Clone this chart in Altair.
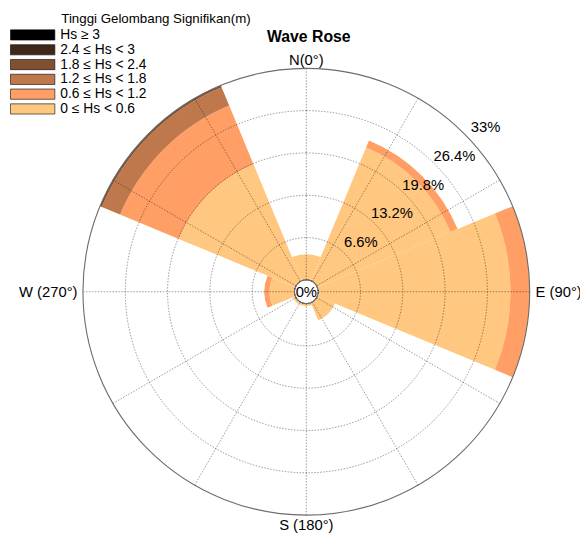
import altair as alt
import pandas as pd
import numpy as np

# ---------------- data ----------------
directions = ["N", "NE", "E", "SE", "S", "SW", "W", "NW"]
dir_angles = [0, 45, 90, 135, 180, 225, 270, 315]
class_labels = ["Hs ≥ 3", "2.4 ≤ Hs < 3", "1.8 ≤ Hs < 2.4",
                "1.2 ≤ Hs < 1.8", "0.6 ≤ Hs < 1.2", "0 ≤ Hs < 0.6"]
class_colors = ["#000000", "#402819", "#805033", "#BF784C", "#FF9F65", "#FFC77F"]
freq_hs_0_06 = [4.0, 22.5, 30.0, 3.0, 0.4, 0.4, 3.9, 19.7]
freq_hs_06_12 = [0.0, 1.2, 3.0, 0.0, 0.0, 0.0, 0.8, 9.9]
freq_hs_12_18 = [0.0, 0.0, 0.0, 0.0, 0.0, 0.0, 0.0, 3.1]
freq_hs_18_24 = [0.0, 0.0, 0.0, 0.0, 0.0, 0.0, 0.0, 0.3]
freq_hs_24_3 = [0.0, 0.0, 0.0, 0.0, 0.0, 0.0, 0.0, 0.0]
freq_hs_3 = [0.0, 0.0, 0.0, 0.0, 0.0, 0.0, 0.0, 0.0]
ring_values = [6.6, 13.2, 19.8, 26.4, 33.0]
ring_labels = ["6.6%", "13.2%", "19.8%", "26.4%", "33%"]
cardinal_labels = ["N(0°)", "E (90°)", "S (180°)", "W (270°)"]
cardinal_angles = [0, 90, 180, 270]
grid_angles = [0, 30, 60, 90, 120, 150, 180, 210, 240, 270, 300, 330]
title_text = "Wave Rose"
legend_title = "Tinggi Gelombang Signifikan(m)"
center_label = "0%"

# ---------------- layout ----------------
FONT = "Liberation Sans"
R_OUT = 226.5
R_HOLE = 12.0
PCT_MAX = 33.0
SECTOR = 45.0
K = (R_OUT - R_HOLE) / PCT_MAX
CX, CY = 310.5, 292.0          # page position of the rose centre
view_left = CX - R_OUT
view_top = CY - R_OUT


def polar(dist_px, deg):
    a = np.deg2rad(deg)
    return dist_px * np.sin(a), dist_px * np.cos(a)


# stacked wedges (inner class first)
stack_order = [(class_labels[5], freq_hs_0_06), (class_labels[4], freq_hs_06_12),
               (class_labels[3], freq_hs_12_18), (class_labels[2], freq_hs_18_24),
               (class_labels[1], freq_hs_24_3), (class_labels[0], freq_hs_3)]
rows = []
for i, (d, ang) in enumerate(zip(directions, dir_angles)):
    base = 0.0
    for cls, vals in stack_order:
        v = vals[i]
        if v > 0:
            rows.append(dict(dir=d, cls=cls, t0=ang - SECTOR / 2, t1=ang + SECTOR / 2,
                             r0=base, r1=base + v))
            base += v
wedge_df = pd.DataFrame(rows)

theta_scale = alt.Scale(type="linear", domain=[0, 360], range=[0, 2 * np.pi], zero=False)
radius_scale = alt.Scale(type="linear", domain=[0, PCT_MAX], range=[R_HOLE, R_OUT], zero=False)
xs = alt.Scale(domain=[-R_OUT, R_OUT], nice=False, zero=False)
ys = alt.Scale(domain=[-R_OUT, R_OUT], nice=False, zero=False)
color_scale = alt.Scale(domain=class_labels, range=class_colors)

wedges = alt.Chart(wedge_df).mark_arc().encode(
    theta=alt.Theta("t0:Q", scale=theta_scale, stack=False),
    theta2="t1:Q",
    radius=alt.Radius("r1:Q", scale=radius_scale, stack=False),
    radius2="r0:Q",
    color=alt.Color("cls:N", scale=color_scale, legend=alt.Legend(
        title=None, orient="none", legendX=10 - view_left, legendY=24.5 - view_top,
        symbolType="M-1,-0.23L1,-0.23L1,0.23L-1,0.23Z", symbolSize=2025,
        symbolStrokeColor="black", symbolStrokeWidth=0.6, symbolOpacity=1,
        labelFont=FONT, labelFontSize=14, labelColor="black", labelOffset=5,
        rowPadding=0, clipHeight=14.3, padding=0, labelLimit=300)),
)

ring_df = pd.DataFrame(dict(ring=ring_values[:-1], t0=0, t1=360))
rings = alt.Chart(ring_df).mark_arc(filled=False, stroke="black", strokeOpacity=0.5,
                                    strokeWidth=0.8, strokeDash=[1.5, 1.5]).encode(
    theta=alt.Theta("t0:Q", scale=theta_scale, stack=False),
    theta2="t1:Q",
    radius=alt.Radius("ring:Q", scale=radius_scale, stack=False),
)
outer_df = pd.DataFrame(dict(ring=ring_values[-1:], t0=0, t1=360))
outer = alt.Chart(outer_df).mark_arc(filled=False, stroke="#6b6b6b", strokeWidth=1.1).encode(
    theta=alt.Theta("t0:Q", scale=theta_scale, stack=False),
    theta2="t1:Q",
    radius=alt.Radius("ring:Q", scale=radius_scale, stack=False),
)

rad_rows = []
for g in grid_angles:
    x0, y0 = polar(R_HOLE, g)
    x1, y1 = polar(R_OUT, g)
    rad_rows.append(dict(x=x0, y=y0, x2=x1, y2=y1))
rad_df = pd.DataFrame(rad_rows)
radials = alt.Chart(rad_df).mark_rule(color="black", opacity=0.5, strokeWidth=0.8,
                                      strokeDash=[1.5, 1.5]).encode(
    x=alt.X("x:Q", scale=xs, axis=None), y=alt.Y("y:Q", scale=ys, axis=None),
    x2="x2:Q", y2="y2:Q")

lab_rows = []
for v, t in zip(ring_values, ring_labels):
    x, y = polar(R_HOLE + K * v + 20, 47.5)
    lab_rows.append(dict(x=x, y=y, t=t))
ring_text = alt.Chart(pd.DataFrame(lab_rows)).mark_text(
    font=FONT, fontSize=15, color="black", align="center", baseline="middle").encode(
    x=alt.X("x:Q", scale=xs, axis=None), y=alt.Y("y:Q", scale=ys, axis=None), text="t:N")

card_gap = {0: 8.5, 90: 6.0, 180: 10.5, 270: 5.5}
card_rows = []
for t, a in zip(cardinal_labels, cardinal_angles):
    x, y = polar(R_OUT + card_gap[a], a)
    card_rows.append(dict(x=x, y=y, t=t, a=a))
card_df = pd.DataFrame(card_rows)


def card_layer(df, align):
    return alt.Chart(df).mark_text(font=FONT, fontSize=15, color="black", align=align,
                                   baseline="middle").encode(
        x=alt.X("x:Q", scale=xs, axis=None), y=alt.Y("y:Q", scale=ys, axis=None), text="t:N")


card_ns = card_layer(card_df[card_df.a.isin([0, 180])], "center")
card_e = card_layer(card_df[card_df.a == 90], "left")
card_w = card_layer(card_df[card_df.a == 270], "right")

center_df = pd.DataFrame(dict(x=[0.0], y=[0.0], t=[center_label]))
center_text = alt.Chart(center_df).mark_text(font=FONT, fontSize=15, color="black",
                                              baseline="middle").encode(
    x=alt.X("x:Q", scale=xs, axis=None), y=alt.Y("y:Q", scale=ys, axis=None), text="t:N")

title_df = pd.DataFrame(dict(x=[2.5], y=[CY - 34.0], t=[title_text]))
title = alt.Chart(title_df).mark_text(font=FONT, fontSize=16, fontWeight="bold",
                                      color="black", baseline="middle").encode(
    x=alt.X("x:Q", scale=xs, axis=None), y=alt.Y("y:Q", scale=ys, axis=None), text="t:N")

ltitle_df = pd.DataFrame(dict(x=[62 - CX], y=[CY - 15.5], t=[legend_title]))
ltitle = alt.Chart(ltitle_df).mark_text(font=FONT, fontSize=13.5, color="black",
                                        align="left", baseline="middle").encode(
    x=alt.X("x:Q", scale=xs, axis=None), y=alt.Y("y:Q", scale=ys, axis=None), text="t:N")

chart = alt.layer(wedges, rings, radials, outer, ring_text, card_ns, card_e, card_w,
                  center_text, title, ltitle).properties(
    width=2 * R_OUT, height=2 * R_OUT,
    autosize=alt.AutoSizeParams(type="none"),
    padding={"left": view_left - 8, "top": view_top - 8, "right": 51, "bottom": 19},
    background="white",
).configure_view(strokeWidth=0)

chart.save("out.html", embed_options={"renderer": "svg", "actions": False})
